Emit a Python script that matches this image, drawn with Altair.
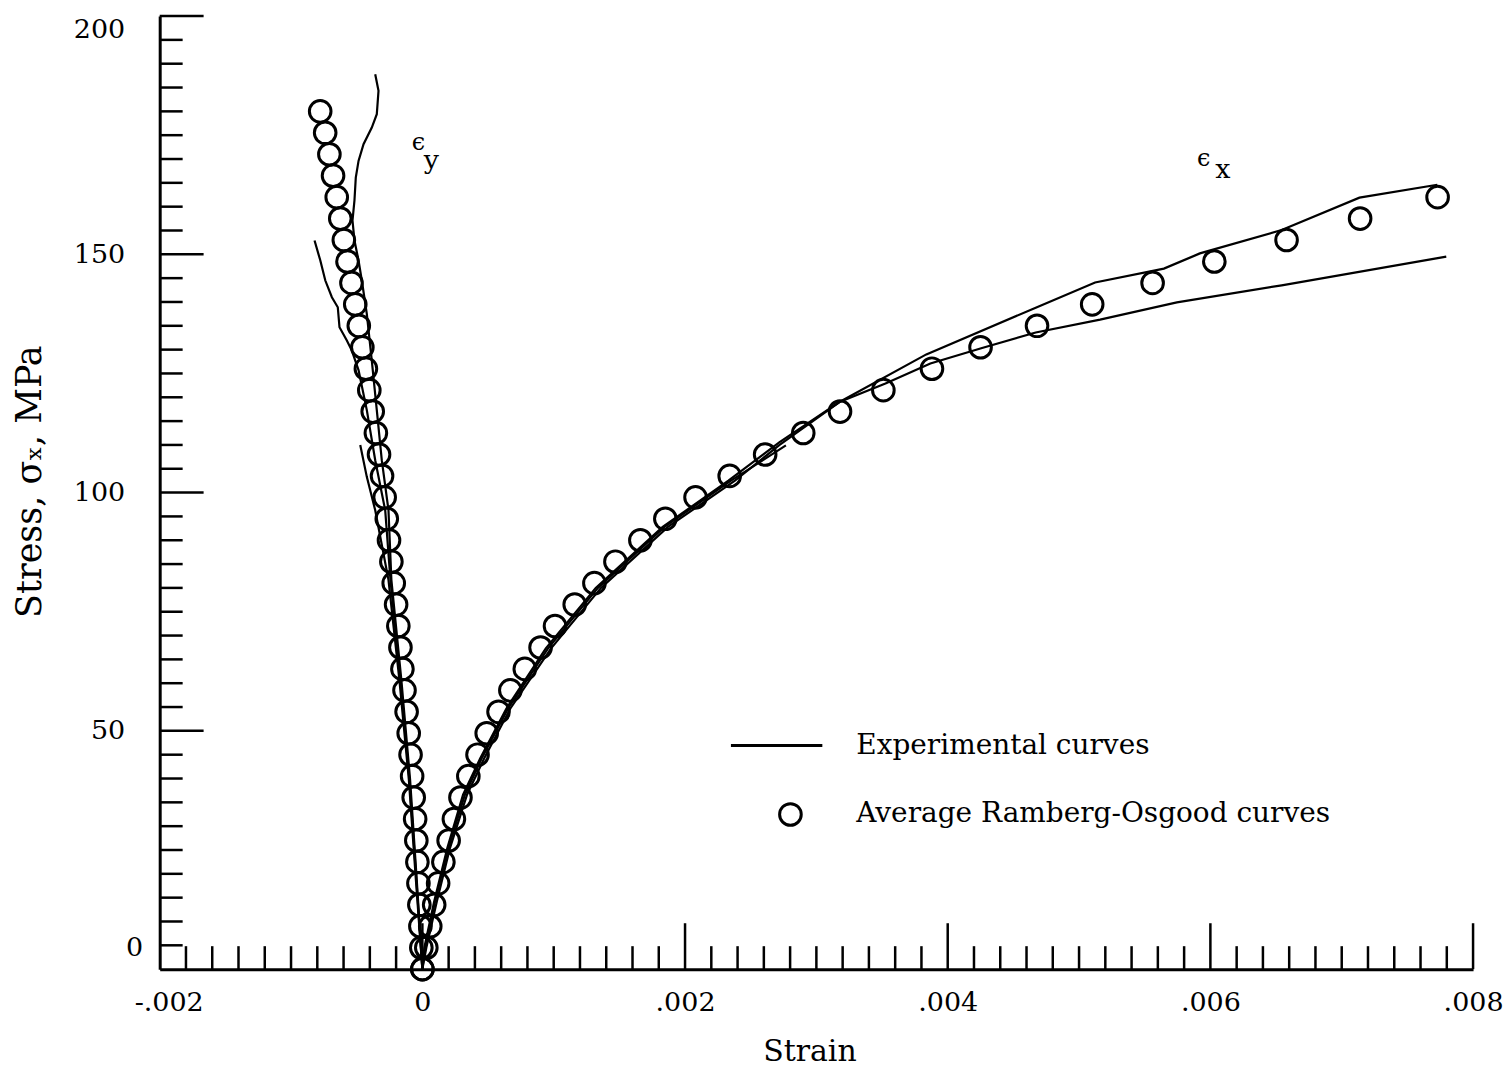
import altair as alt
import pandas as pd

FONT = "DejaVu Serif"
EXP_LABEL = "Experimental curves"
RO_LABEL = "Average Ramberg-Osgood curves"

# ---- Average Ramberg-Osgood curves (circles) ----
ro_x_stress = [0, 4.5, 9, 13.5, 18, 22.5, 27, 31.5, 36, 40.5, 45, 49.5, 54, 58.5, 63, 67.5, 72,
               76.5, 81, 85.5, 90, 94.5, 99, 103.5, 108, 112.5, 117, 121.5, 126, 130.5, 135,
               139.5, 144, 148.5, 153, 157.5, 162]
ro_x_strain = [0, 0.00003, 0.00006, 0.00009, 0.00012, 0.00016, 0.0002, 0.00024, 0.00029, 0.00035,
               0.00042, 0.00049, 0.00058, 0.00067, 0.00078, 0.0009, 0.00101, 0.00116, 0.00131,
               0.00147, 0.00166, 0.00185, 0.00208, 0.00234, 0.00261, 0.0029, 0.00318, 0.00351,
               0.00388, 0.00425, 0.00468, 0.0051, 0.00556, 0.00603, 0.00658, 0.00714, 0.00773]

ro_y_stress = [0, 4.5, 9, 13.5, 18, 22.5, 27, 31.5, 36, 40.5, 45, 49.5, 54, 58.5, 63, 67.5, 72,
               76.5, 81, 85.5, 90, 94.5, 99, 103.5, 108, 112.5, 117, 121.5, 126, 130.5, 135,
               139.5, 144, 148.5, 153, 157.5, 162, 166.5, 171, 175.5, 180]
ro_y_strain = [0, -0.000008, -0.000015, -0.000023, -0.00003, -0.000038, -0.000046, -0.000055,
               -0.000066, -0.000078, -0.00009, -0.000104, -0.00012, -0.000136, -0.000152,
               -0.000167, -0.000183, -0.0002, -0.000218, -0.000236, -0.000254, -0.000271,
               -0.000287, -0.000307, -0.00033, -0.000354, -0.000378, -0.000404, -0.00043,
               -0.000457, -0.000484, -0.000511, -0.00054, -0.00057, -0.000598, -0.000625,
               -0.000652, -0.00068, -0.000708, -0.00074, -0.000778]

# ---- Experimental curves (lines) ----
ey_a_strain = [0, -0.000043, -0.0000935, -0.00016, -0.000236, -0.000258, -0.000309, -0.000347,
               -0.000385, -0.000423, -0.000461, -0.000486, -0.000517, -0.000532, -0.000517,
               -0.000507, -0.000486, -0.000448, -0.000385, -0.000347, -0.000334, -0.000359]
ey_a_stress = [0, 18.8, 39.8, 60.7, 81.7, 96.3, 106.8, 117.3, 127.7, 137.5, 144.5, 148.7, 152.9,
               157.1, 161.3, 166.1, 169.6, 173.1, 176.6, 179.4, 184.3, 187.8]

ey_b_strain = [0, -0.0000456, -0.0000988, -0.000167, -0.000243, -0.000283, -0.000359, -0.000423,
               -0.000486, -0.000537, -0.000575, -0.000631, -0.000644, -0.000689, -0.000739,
               -0.000777, -0.000821]
ey_b_stress = [0, 18.8, 39.8, 60.7, 81.7, 96.3, 106.8, 117.3, 125.7, 129.8, 131.9, 134.7, 138.9,
               141, 144.5, 148.7, 152.9]

ey_c_strain = [0, -0.0000494, -0.000103, -0.000175, -0.000258, -0.000359, -0.000423, -0.000473]
ey_c_stress = [0, 18.8, 39.8, 60.7, 81.7, 96.3, 103.3, 110]

ex_d_strain = [0, 0.0000205, 0.0000965, 0.000198, 0.000324, 0.000451, 0.000653, 0.000957,
               0.001337, 0.001844, 0.00235, 0.002768]
ex_d_stress = [0, 4.5, 14.2, 25.4, 36.6, 44.2, 54.7, 67.3, 80, 92.8, 102.5, 109.9]

ex_e_strain = [0, 0.000015, 0.00009, 0.00019, 0.00031, 0.00044, 0.00064, 0.00094, 0.00132,
               0.00183, 0.00233, 0.00272, 0.003176, 0.003837, 0.00467, 0.005122, 0.005646,
               0.00592, 0.006543, 0.007135, 0.007728]
ex_e_stress = [0, 4.5, 14.2, 25.4, 36.6, 44.2, 54.7, 67.3, 80, 92.8, 102.5, 110.6, 119, 129,
               138.8, 144.1, 147, 150.2, 155.1, 161.9, 164.6]

ex_f_strain = [0, 0.00003, 0.00011, 0.00021, 0.00034, 0.00047, 0.00067, 0.00098, 0.00136,
               0.00187, 0.00238, 0.00272, 0.003176, 0.003526, 0.003868, 0.004255, 0.00467,
               0.00516, 0.005745, 0.006543, 0.007796]
ex_f_stress = [0, 4.5, 14.2, 25.4, 36.6, 44.2, 54.7, 67.3, 80, 92.8, 102.5, 110, 119, 122.9,
               127.1, 130.3, 133.6, 136.3, 139.9, 143.5, 149.5]

# ---- axis ticks and labels ----
x_label_values = [-0.002, 0, 0.002, 0.004, 0.006, 0.008]
y_label_values = [0, 50, 100, 150, 200]
x_major_ticks = [0, 0.002, 0.004, 0.006, 0.008]
x_minor_ticks = [round(-0.002 + 0.0002 * k, 4) for k in range(1, 50) if k % 10 != 0]
y_major_ticks = [50, 100, 150, 200]
y_minor_ticks = [v for v in range(5, 200, 5) if v % 50 != 0]

# ---- annotations ----
ann_text = ["ϵ", "y", "ϵ", "x"]
ann_strain = [-0.00003, 0.000068, 0.00595, 0.006094]
ann_stress = [173.3, 169.6, 170.0, 167.6]
ann_size = [24, 27, 24, 27]

W, H = 1316, 955

rows = []
for cid, xs, ys in [("ey_a", ey_a_strain, ey_a_stress), ("ey_b", ey_b_strain, ey_b_stress),
                    ("ey_c", ey_c_strain, ey_c_stress), ("ex_d", ex_d_strain, ex_d_stress),
                    ("ex_e", ex_e_strain, ex_e_stress), ("ex_f", ex_f_strain, ex_f_stress)]:
    for k, (a, b) in enumerate(zip(xs, ys)):
        rows.append({"curve": cid, "k": k, "strain": a, "stress": b})
exp_df = pd.DataFrame(rows)

ro_df = pd.DataFrame({
    "strain": ro_x_strain + ro_y_strain,
    "stress": ro_x_stress + ro_y_stress,
    "series": [RO_LABEL] * (len(ro_x_strain) + len(ro_y_strain)),
})

x_scale = alt.Scale(domain=[-0.002, 0.008], nice=False, zero=False)
y_scale = alt.Scale(domain=[0, 200], nice=False, zero=False)

x_axis = alt.Axis(
    title="Strain", values=x_label_values,
    labelExpr="datum.value == 0 ? '0' : (datum.value < 0 ? '-' : '') + replace(format(abs(datum.value), '.3f'), '0.', '.')",
    ticks=False, grid=False, domainWidth=3, domainColor="black",
    labelFont=FONT, labelFontSize=27, labelColor="black", labelPadding=20, labelFlush=False,
    labelOffset={"condition": {"test": "datum.value < -0.001", "value": 9}, "value": 0},
    titleFont=FONT, titleFontSize=30, titleFontWeight="normal", titleColor="black",
    titlePadding=22, titleX=651,
)
y_axis = alt.Axis(
    title="Stress, σₓ, MPa", values=y_label_values, format="d",
    ticks=False, grid=False, domainWidth=3, domainColor="black",
    labelFont=FONT, labelFontSize=27, labelColor="black", labelFlush=False,
    labelPadding={"condition": {"test": "datum.value == 0", "value": 17}, "value": 35},
    labelOffset={"condition": [{"test": "datum.value == 0", "value": -22},
                               {"test": "datum.value == 200", "value": 13}], "value": 0},
    titleFont=FONT, titleFontSize=35, titleFontWeight="normal", titleColor="black",
    titlePadding=26, titleY=466,
)

lines = alt.Chart(exp_df).mark_line(color="black", strokeWidth=2.2).encode(
    x=alt.X("strain:Q", scale=x_scale, axis=x_axis),
    y=alt.Y("stress:Q", scale=y_scale, axis=y_axis),
    detail="curve:N",
    order="k:Q",
)

PT_SIZE = 470
LINE_PATH = "M-5.5,0H2.95"
points = alt.Chart(ro_df).mark_point(filled=False, size=PT_SIZE, strokeWidth=3, color="black", opacity=1).encode(
    x=alt.X("strain:Q", scale=x_scale),
    y=alt.Y("stress:Q", scale=y_scale),
    shape=alt.Shape(
        "series:N",
        scale=alt.Scale(domain=[EXP_LABEL, RO_LABEL], range=[LINE_PATH, "circle"]),
        legend=alt.Legend(
            title=None, orient="none", legendX=618, legendY=717,
            symbolSize=PT_SIZE, symbolStrokeWidth=3, symbolStrokeColor="black",
            labelFont=FONT, labelFontSize=28, labelColor="black", labelOffset=52,
            rowPadding=38, labelLimit=600,
        ),
    ),
)

def tick_layer(df, field, is_x, length):
    base = alt.Chart(df).mark_rule(color="black", strokeWidth=2.5)
    if is_x:
        return base.encode(x=alt.X(f"{field}:Q", scale=x_scale), y=alt.value(H), y2=alt.value(H - length))
    return base.encode(y=alt.Y(f"{field}:Q", scale=y_scale), x=alt.value(0), x2=alt.value(length))

xt_minor = tick_layer(pd.DataFrame({"v": x_minor_ticks}), "v", True, 23)
xt_major = tick_layer(pd.DataFrame({"v": x_major_ticks}), "v", True, 46)
yt_minor = tick_layer(pd.DataFrame({"v": y_minor_ticks}), "v", False, 23)
yt_major = tick_layer(pd.DataFrame({"v": y_major_ticks}), "v", False, 44)

ann = alt.Chart(pd.DataFrame({"t": ann_text, "strain": ann_strain, "stress": ann_stress,
                              "fs": ann_size})).mark_text(
    font=FONT, color="black", align="center", baseline="middle"
).encode(
    x=alt.X("strain:Q", scale=x_scale),
    y=alt.Y("stress:Q", scale=y_scale),
    text="t:N",
    size=alt.Size("fs:Q", scale=None, legend=None),
)

chart = alt.layer(lines, points, xt_minor, xt_major, yt_minor, yt_major, ann).properties(
    width=W, height=H,
    autosize=alt.AutoSizeParams(type="none"),
    padding={"left": 152, "top": 7, "right": 30, "bottom": 101},
).configure_view(stroke=None)

chart.save("out.html", embed_options={"renderer": "svg", "actions": False})
